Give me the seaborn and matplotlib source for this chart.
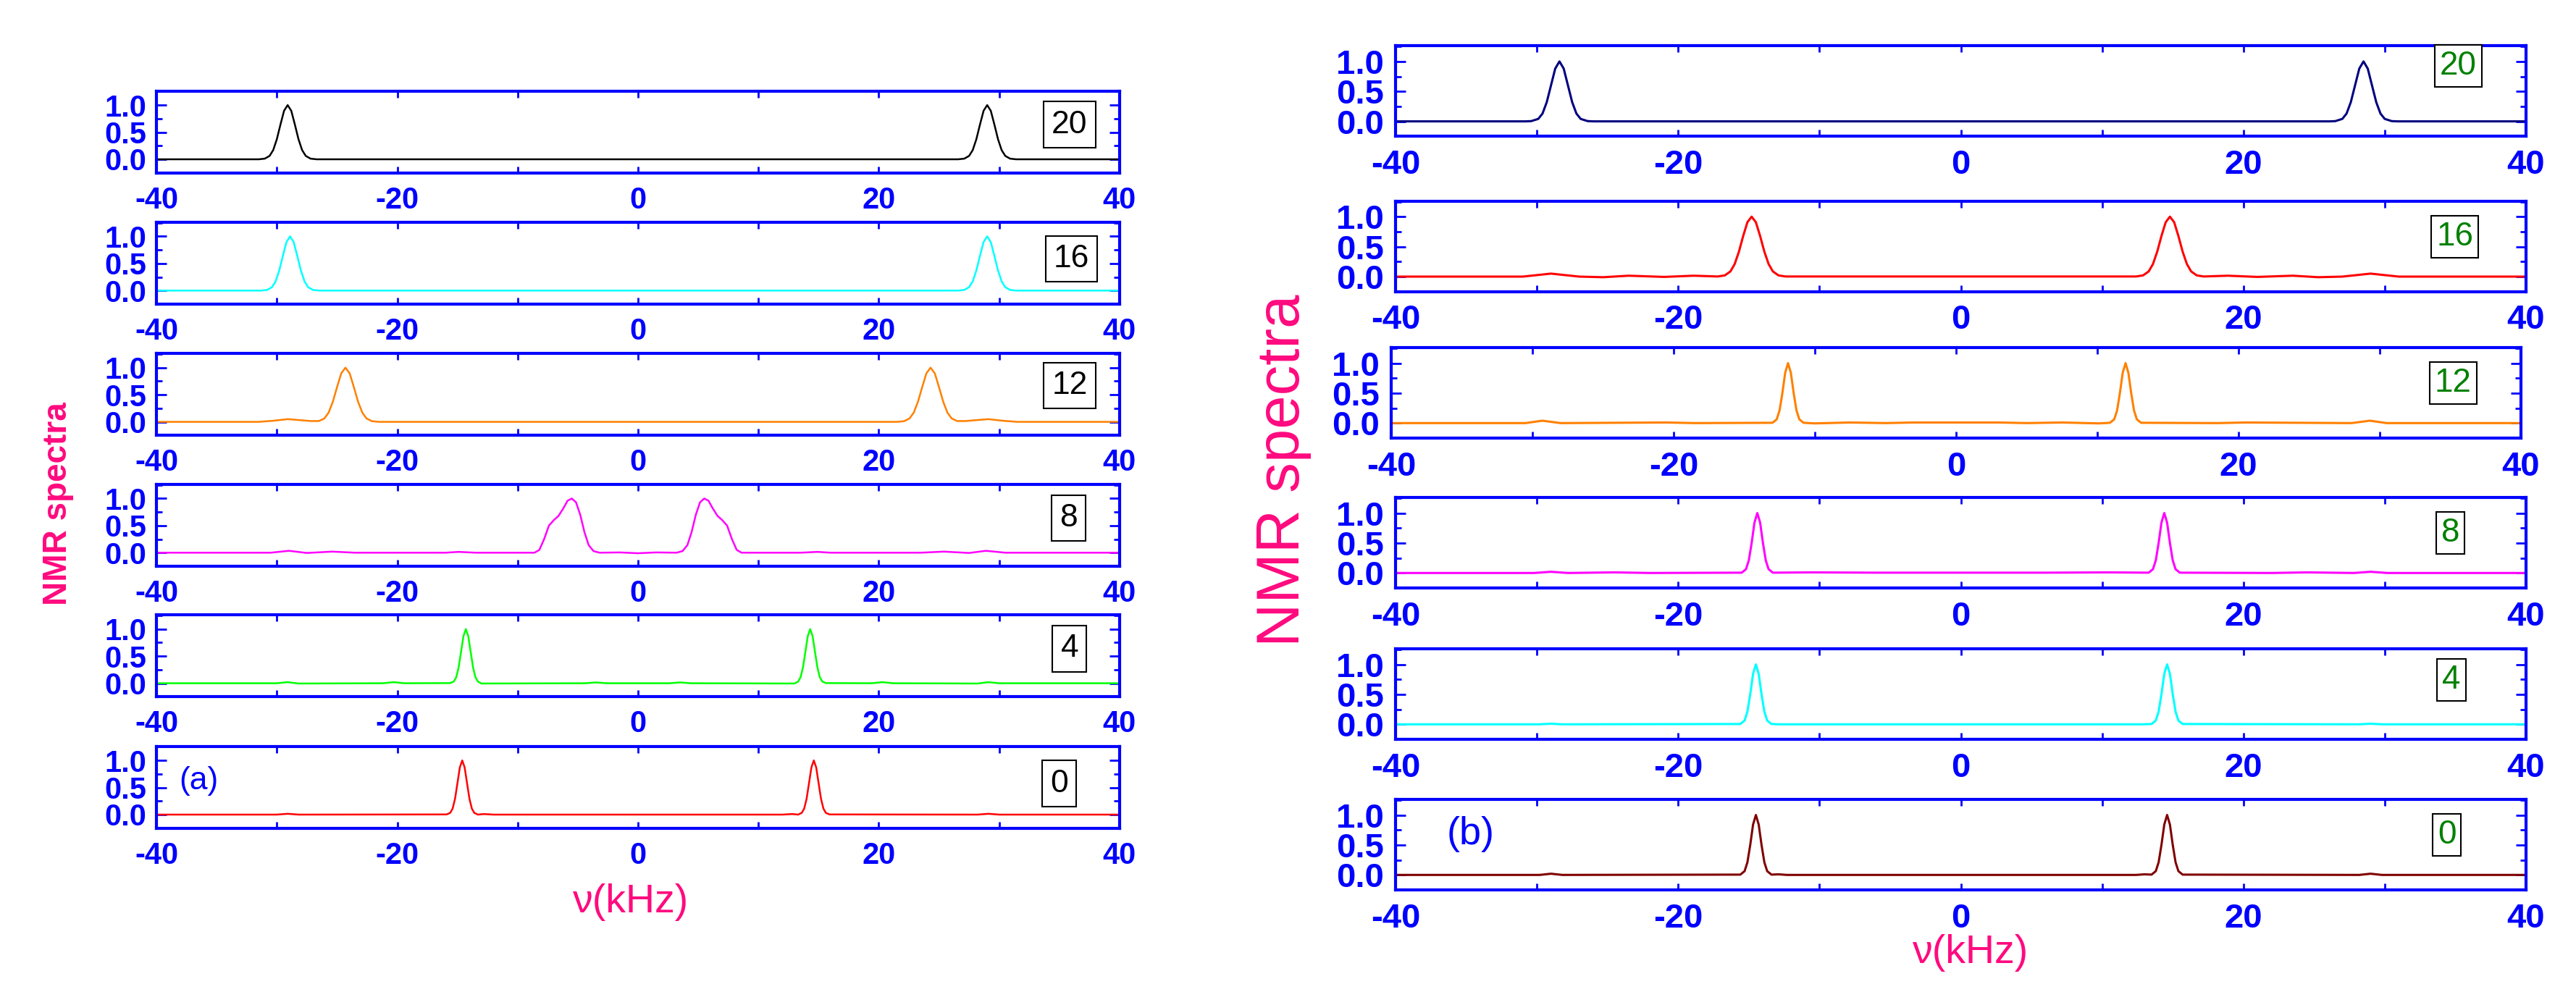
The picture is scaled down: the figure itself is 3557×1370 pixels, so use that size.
import matplotlib
matplotlib.use("Agg")
import matplotlib.pyplot as plt
import seaborn as sns

sns.set_style("ticks")
plt.rcParams["font.family"] = ["Liberation Sans", "DejaVu Sans"]

# ---------------- data (nu in kHz, normalised intensity) ----------------
# panel (a)
a20_x = [-40, -31.5, -31.0, -30.6, -30.3, -30.0, -29.7, -29.4, -29.1, -28.8, -28.5, -28.2, -27.9, -27.6, -27.2, -26.7,
         26.6, 27.1, 27.5, 27.8, 28.1, 28.4, 28.7, 29.0, 29.3, 29.6, 29.9, 30.2, 30.5, 30.9, 31.4, 40]
a20_y = [0, 0, 0.012, 0.063, 0.17, 0.37, 0.64, 0.895, 1.0, 0.895, 0.64, 0.37, 0.17, 0.063, 0.012, 0,
         0, 0.012, 0.063, 0.17, 0.37, 0.64, 0.895, 1.0, 0.895, 0.64, 0.37, 0.17, 0.063, 0.012, 0, 0]

a16_x = [-40, -31.3, -30.8, -30.4, -30.1, -29.8, -29.5, -29.2, -28.9, -28.6, -28.3, -28.0, -27.7, -27.4, -27.0, -26.5,
         26.6, 27.1, 27.5, 27.8, 28.1, 28.4, 28.7, 29.0, 29.3, 29.6, 29.9, 30.2, 30.5, 30.9, 31.4, 40]
a16_y = [0, 0, 0.012, 0.063, 0.17, 0.37, 0.64, 0.895, 1.0, 0.895, 0.64, 0.37, 0.17, 0.063, 0.012, 0,
         0, 0.012, 0.063, 0.17, 0.37, 0.64, 0.895, 1.0, 0.895, 0.64, 0.37, 0.17, 0.063, 0.012, 0, 0]

a12_x = [-40, -31.5, -30.3, -29.1, -28.0, -27.2, -26.5, -26.05, -25.7, -25.35, -25.0, -24.65, -24.3, -23.95, -23.6,
         -23.25, -22.9, -22.55, -22.1, -21.5,
         21.5, 22.1, 22.55, 22.9, 23.25, 23.6, 23.95, 24.3, 24.65, 25.0, 25.35, 25.7, 26.05, 26.5, 27.2, 28.0, 29.1,
         30.3, 31.5, 40]
a12_y = [0, 0, 0.02, 0.05, 0.03, 0.015, 0.015, 0.063, 0.17, 0.37, 0.64, 0.895, 1.0, 0.895, 0.64,
         0.37, 0.17, 0.063, 0.012, 0,
         0, 0.012, 0.063, 0.17, 0.37, 0.64, 0.895, 1.0, 0.895, 0.64, 0.37, 0.17, 0.063, 0.015, 0.015, 0.03, 0.05,
         0.02, 0, 0]

a8_x = [-40, -30.5, -29.0, -27.5, -25.4, -23.5, -16.0, -14.9, -13.5,
        -8.6, -8.2, -7.8, -7.4, -7.0, -6.6, -6.2, -5.85, -5.5, -5.15, -4.8, -4.45, -4.1, -3.7, -3.2,
        -1.5, 0.0, 1.5,
        3.2, 3.7, 4.1, 4.45, 4.8, 5.15, 5.5, 5.85, 6.2, 6.6, 7.0, 7.4, 7.8, 8.2, 8.6,
        13.5, 14.9, 16.0, 23.5, 25.4, 27.5, 28.9, 30.5, 40]
a8_y = [0, 0, 0.035, -0.005, 0.02, 0, 0, 0.015, 0,
        0, 0.05, 0.25, 0.5, 0.6, 0.68, 0.82, 0.96, 1.0, 0.93, 0.7, 0.38, 0.14, 0.03, 0,
        0.005, -0.01, 0.005,
        0, 0.03, 0.14, 0.38, 0.7, 0.93, 1.0, 0.96, 0.82, 0.68, 0.6, 0.5, 0.25, 0.05, 0,
        0, 0.015, 0, 0, 0.02, -0.005, 0.035, 0, 0]

a4_x = [-40, -30.0, -29.1, -28.2, -21.2, -20.3, -19.4,
        -15.6, -15.3, -15.1, -14.9, -14.7, -14.5, -14.3, -14.1, -13.9, -13.7, -13.5, -13.3, -13.0,
        -4.4, -3.5, -2.6, 2.6, 3.5, 4.4,
        13.0, 13.3, 13.5, 13.7, 13.9, 14.1, 14.3, 14.5, 14.7, 14.9, 15.1, 15.3, 15.6,
        19.4, 20.3, 21.2, 28.2, 29.1, 30.0, 40]
a4_y = [0, 0, 0.02, -0.005, 0, 0.02, 0,
        0.003, 0.032, 0.11, 0.29, 0.578, 0.87, 1.0, 0.87, 0.578, 0.29, 0.11, 0.032, -0.005,
        0, 0.015, 0, 0, 0.015, 0,
        -0.005, 0.032, 0.11, 0.29, 0.578, 0.87, 1.0, 0.87, 0.578, 0.29, 0.11, 0.032, 0.003,
        0, 0.02, 0, -0.005, 0.02, 0, 0]

a0_x = [-40, -30.0, -29.1, -28.2,
        -15.9, -15.6, -15.4, -15.2, -15.0, -14.8, -14.6, -14.4, -14.2, -14.0, -13.8, -13.6, -13.3,
        -12.8, -12.0, 12.0, 12.8,
        13.3, 13.6, 13.8, 14.0, 14.2, 14.4, 14.6, 14.8, 15.0, 15.2, 15.4, 15.6, 15.9,
        28.2, 29.1, 30.0, 40]
a0_y = [0, 0, 0.015, 0,
        0.003, 0.032, 0.11, 0.29, 0.578, 0.87, 1.0, 0.87, 0.578, 0.29, 0.11, 0.032, 0.0,
        0.01, 0, 0, 0.01,
        0.0, 0.032, 0.11, 0.29, 0.578, 0.87, 1.0, 0.87, 0.578, 0.29, 0.11, 0.032, 0.003,
        0, 0.015, 0, 0]

# panel (b)
b20_x = [-40, -30.8, -30.4, -29.9, -29.6, -29.3, -29.0, -28.7, -28.4, -28.1, -27.8, -27.5, -27.2, -26.9, -26.4, -26.0,
         26.1, 26.5, 27.0, 27.3, 27.6, 27.9, 28.2, 28.5, 28.8, 29.1, 29.4, 29.7, 30.0, 30.5, 30.9, 40]
b20_y = [0, 0, 0.004, 0.041, 0.13, 0.32, 0.60, 0.88, 1.0, 0.88, 0.60, 0.32, 0.13, 0.041, 0.004, 0,
         0, 0.004, 0.041, 0.13, 0.32, 0.60, 0.88, 1.0, 0.88, 0.60, 0.32, 0.13, 0.041, 0.004, 0, 0]

b16_x = [-40, -31.0, -29.0, -27.0, -25.3, -23.5, -21.0, -18.9,
         -17.2, -16.7, -16.3, -16.0, -15.7, -15.4, -15.1, -14.8, -14.5, -14.2, -13.9, -13.6, -13.3, -12.9, -12.4,
         12.4, 12.9, 13.3, 13.6, 13.9, 14.2, 14.5, 14.8, 15.1, 15.4, 15.7, 16.0, 16.3, 16.7, 17.2,
         18.9, 21.0, 23.5, 25.3, 27.0, 29.0, 31.0, 40]
b16_y = [0, 0, 0.05, 0.0, -0.01, 0.015, -0.005, 0.015,
         0.002, 0.02, 0.087, 0.21, 0.416, 0.677, 0.907, 1.0, 0.907, 0.677, 0.416, 0.21, 0.087, 0.02, 0.002,
         0.002, 0.02, 0.087, 0.21, 0.416, 0.677, 0.907, 1.0, 0.907, 0.677, 0.416, 0.21, 0.087, 0.02, 0.002,
         0.015, -0.005, 0.015, -0.01, 0.0, 0.05, 0, 0]

b12_x = [-40, -30.5, -29.3, -28.0, -20.5, -18.5,
         -13.0, -12.7, -12.5, -12.3, -12.1, -11.9, -11.7, -11.5, -11.3, -11.1, -10.8,
         -10.0, -7.5, -5.0, -3.0, 3.0, 5.0, 7.5, 10.1,
         10.9, 11.2, 11.4, 11.6, 11.8, 12.0, 12.2, 12.4, 12.6, 12.8, 13.1,
         18.5, 20.5, 28.0, 29.3, 30.5, 40]
b12_y = [0, 0, 0.04, 0, 0.01, 0,
         0.005, 0.063, 0.21, 0.5, 0.84, 1.0, 0.84, 0.5, 0.21, 0.063, 0.005,
         -0.005, 0.01, 0, 0.01, 0.01, 0, 0.01, -0.005,
         0.005, 0.063, 0.21, 0.5, 0.84, 1.0, 0.84, 0.5, 0.21, 0.063, 0.005,
         0, 0.01, 0, 0.04, 0, 0]

b8_x = [-40, -30.2, -29.0, -27.8, -24.5, -22.0,
        -15.5, -15.2, -15.0, -14.8, -14.6, -14.4, -14.2, -14.0, -13.8, -13.6, -13.3,
        -10.5, -6.0, 6.0, 10.5,
        13.3, 13.6, 13.8, 14.0, 14.2, 14.4, 14.6, 14.8, 15.0, 15.2, 15.5,
        22.0, 24.5, 27.8, 29.0, 30.2, 40]
b8_y = [0, 0, 0.02, 0, 0.01, 0,
        0.005, 0.063, 0.21, 0.5, 0.84, 1.0, 0.84, 0.5, 0.21, 0.063, 0.005,
        0.01, 0.005, 0.005, 0.01,
        0.005, 0.063, 0.21, 0.5, 0.84, 1.0, 0.84, 0.5, 0.21, 0.063, 0.005,
        0, 0.01, 0, 0.02, 0, 0]

b4_x = [-40, -29.8, -29.0, -28.2,
        -15.6, -15.3, -15.1, -14.9, -14.7, -14.5, -14.3, -14.1, -13.9, -13.7, -13.4, -12.8,
        12.9, 13.5, 13.8, 14.0, 14.2, 14.4, 14.6, 14.8, 15.0, 15.2, 15.4, 15.7,
        28.2, 29.0, 29.8, 40]
b4_y = [0, 0, 0.01, 0,
        0.005, 0.063, 0.21, 0.5, 0.84, 1.0, 0.84, 0.5, 0.21, 0.063, 0.005, 0,
        0, 0.005, 0.063, 0.21, 0.5, 0.84, 1.0, 0.84, 0.5, 0.21, 0.063, 0.005,
        0, 0.01, 0, 0]

b0_x = [-40, -29.8, -29.0, -28.2,
        -15.6, -15.3, -15.1, -14.9, -14.7, -14.5, -14.3, -14.1, -13.9, -13.7, -13.4, -12.9, -12.3,
        12.4, 13.0, 13.5, 13.8, 14.0, 14.2, 14.4, 14.6, 14.8, 15.0, 15.2, 15.4, 15.7,
        28.2, 29.0, 29.8, 40]
b0_y = [0, 0, 0.02, 0,
        0.005, 0.063, 0.21, 0.5, 0.84, 1.0, 0.84, 0.5, 0.21, 0.063, 0.005, 0.01, 0,
        0, 0.01, 0.005, 0.063, 0.21, 0.5, 0.84, 1.0, 0.84, 0.5, 0.21, 0.063, 0.005,
        0, 0.02, 0, 0]

a_labels = ["20", "16", "12", "8", "4", "0"]
b_labels = ["20", "16", "12", "8", "4", "0"]
a_colors = ["black", "#00FFFF", "#FF8000", "#FF00FF", "#00FF00", "#FF0000"]
b_colors = ["#000080", "#FF0000", "#FF8000", "#FF00FF", "#00FFFF", "#800000"]
a_series = [(a20_x, a20_y), (a16_x, a16_y), (a12_x, a12_y), (a8_x, a8_y), (a4_x, a4_y), (a0_x, a0_y)]
b_series = [(b20_x, b20_y), (b16_x, b16_y), (b12_x, b12_y), (b8_x, b8_y), (b4_x, b4_y), (b0_x, b0_y)]

x_ticks = [-40, -20, 0, 20, 40]
x_ticklabels = ["-40", "-20", "0", "20", "40"]
y_ticks = [0.0, 0.5, 1.0]
y_ticklabels = ["0.0", "0.5", "1.0"]

# ---------------- layout (pixels of the 3557x1370 canvas) ----------------
W, H = 3557, 1370
BLUE = "#0000FF"
PINK = "#FF0A7F"
NARROW = ["Liberation Sans Narrow", "Liberation Sans", "DejaVu Sans"]

a_left, a_width, a_height = 216, 1330, 113
a_tops = [125.7, 307, 488.3, 669, 849.3, 1030.7]
b_lefts = [1927, 1927, 1921, 1927, 1927, 1927]
b_widths = [1561, 1561, 1560, 1561, 1561, 1561]
b_height = 125
b_tops = [63.3, 277.7, 480, 687, 896, 1104]
a_box_pos = [(0.948, 0.59), (0.950, 0.55), (0.948, 0.61), (0.947, 0.59), (0.948, 0.587), (0.937, 0.546)]
b_box_pos = [(0.940, 0.776), (0.937, 0.606), (0.940, 0.608), (0.933, 0.608), (0.934, 0.656), (0.930, 0.608)]


def style_axes(ax, tick_size, xpad, ypad):
    ax.set_xlim(-40, 40)
    ax.set_ylim(-0.25, 1.26)
    ax.set_xticks(x_ticks)
    ax.set_xticklabels(x_ticklabels, fontweight="bold", fontsize=tick_size, color=BLUE)
    ax.set_xticks(range(-30, 40, 20), minor=True)
    ax.set_yticks(y_ticks)
    ax.set_yticklabels(y_ticklabels, fontweight="bold", fontsize=tick_size, color=BLUE)
    ax.set_yticks([-0.25, 0.25, 0.75, 1.25], minor=True)
    for sp in ax.spines.values():
        sp.set_color(BLUE)
        sp.set_linewidth(3)
        sp.set_visible(True)
    ax.tick_params(which="both", direction="in", color=BLUE, width=2, top=True, right=True)
    ax.tick_params(axis="x", which="both", length=6.5, pad=xpad)
    ax.tick_params(axis="y", which="major", length=10, pad=ypad)
    ax.tick_params(axis="y", which="minor", length=5.5)
    ax.set_xlabel("")
    ax.set_ylabel("")


fig = plt.figure(figsize=(W / 100, H / 100), dpi=100)

for i in range(6):
    ax = fig.add_axes([a_left / W, 1 - (a_tops[i] + a_height) / H, a_width / W, a_height / H])
    sns.lineplot(x=a_series[i][0], y=a_series[i][1], ax=ax, color=a_colors[i], linewidth=1.8,
                 sort=False, estimator=None)
    style_axes(ax, 30, 13, 10)
    ax.text(a_box_pos[i][0], a_box_pos[i][1], a_labels[i], transform=ax.transAxes, ha="center", va="center",
            fontsize=32, family=NARROW, color="black",
            bbox=dict(boxstyle="square,pad=0.25", fc="white", ec="black", lw=1.5))
    if i == 5:
        ax.text(0.044, 0.573, "(a)", transform=ax.transAxes, ha="center", va="center", fontsize=32, color=BLUE)

for i in range(6):
    ax = fig.add_axes([b_lefts[i] / W, 1 - (b_tops[i] + b_height) / H, b_widths[i] / W, b_height / H])
    sns.lineplot(x=b_series[i][0], y=b_series[i][1], ax=ax, color=b_colors[i], linewidth=2.2,
                 sort=False, estimator=None)
    style_axes(ax, 34, 12.7, 11.5)
    ax.text(b_box_pos[i][0], b_box_pos[i][1], b_labels[i], transform=ax.transAxes, ha="center", va="center",
            fontsize=33, family=NARROW, color="#008000",
            bbox=dict(boxstyle="square,pad=0.15", fc="white", ec="black", lw=1.5))
    if i == 5:
        ax.text(0.0667, 0.616, "(b)", transform=ax.transAxes, ha="center", va="center", fontsize=39, color=BLUE)

# axis titles
fig.text(80 / W, 1 - 696 / H, "NMR spectra", rotation=90, ha="center", va="center",
         fontsize=33, fontweight="bold", color=PINK)
fig.text(1772 / W, 1 - 650 / H, "NMR spectra", rotation=90, ha="center", va="center",
         fontsize=60, color=PINK)
fig.text(870 / W, 1 - 1246 / H, "\u03bd(kHz)", ha="center", va="center", fontsize=40, family=NARROW, color=PINK)
fig.text(2720 / W, 1 - 1316 / H, "\u03bd(kHz)", ha="center", va="center", fontsize=40, family=NARROW, color=PINK)

fig.savefig("out.png", dpi=100, facecolor="white")
